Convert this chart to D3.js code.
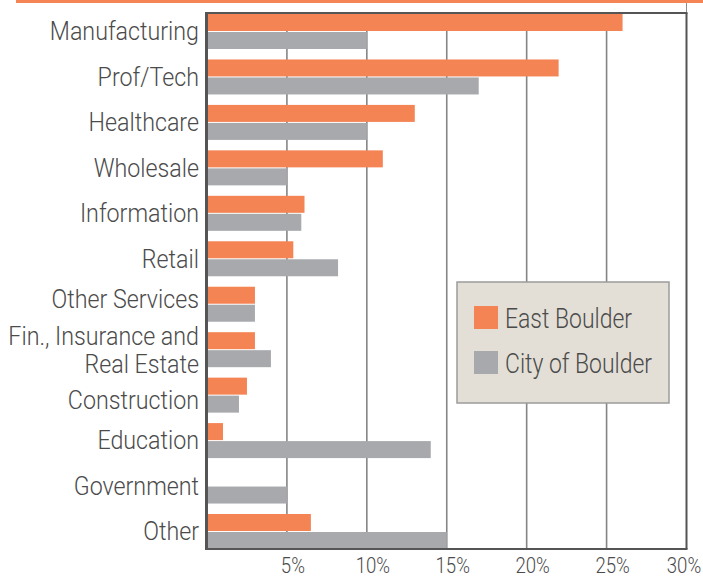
<!DOCTYPE html>
<html>
<head>
<meta charset="utf-8">
<script src="https://cdn.jsdelivr.net/npm/d3@7"></script>
<style>
  html, body { margin: 0; padding: 0; background: #ffffff; }
  svg { display: block; }
  text { font-family: Roboto, "Liberation Sans", sans-serif; font-weight: 300; }
</style>
</head>
<body>
<svg id="chart" width="703" height="579"></svg>
<script>
// Employment share by industry: East Boulder vs. City of Boulder
const categories = [
  "Manufacturing", "Prof/Tech", "Healthcare", "Wholesale", "Information",
  "Retail", "Other Services", "Fin., Insurance and\nReal Estate",
  "Construction", "Education", "Government", "Other"
];
const seriesNames = ["East Boulder", "City of Boulder"];
const eastBoulder = [26, 22, 13, 11, 6.1, 5.4, 3, 3, 2.5, 1, 0, 6.5];
const cityOfBoulder = [10, 17, 10, 5, 5.9, 8.2, 3, 4, 2, 14, 5, 15];
const tickValues = [5, 10, 15, 20, 25, 30];

const colors = { "East Boulder": "#f58455", "City of Boulder": "#a8a9ad" };
const textColor = "#4b4b4b";

// small vertical nudges so labels clear the two-line neighbour
const labelShift = { "Other Services": -5, "Construction": 5 };

const svg = d3.select("#chart");

const plot = { left: 207, right: 686.5, top: 13, bottom: 549 };

const x = d3.scaleLinear().domain([0, 30]).range([plot.left, plot.right]);
const y = d3.scaleBand().domain(categories).range([14, 549])
  .paddingInner(0.23).paddingOuter(0);
const ySub = d3.scaleBand().domain(seriesNames).range([0, y.bandwidth()])
  .paddingInner(0.0556).paddingOuter(0);

// orange rule across the top
svg.append("rect")
  .attr("x", 16).attr("y", 0).attr("width", 703 - 16).attr("height", 3)
  .attr("fill", colors["East Boulder"]);
svg.append("line")
  .attr("x1", plot.right).attr("x2", plot.right)
  .attr("y1", 3).attr("y2", plot.top)
  .attr("stroke", "#8c8c8c").attr("stroke-width", 1);

// vertical gridlines
svg.append("g").selectAll("line")
  .data(tickValues.filter(d => d < 30))
  .join("line")
  .attr("x1", d => x(d)).attr("x2", d => x(d))
  .attr("y1", plot.top).attr("y2", plot.bottom)
  .attr("stroke", "#858585").attr("stroke-width", 1.6);

// bars
const rows = categories.map((c, i) => ({
  category: c,
  values: [
    { series: "East Boulder", value: eastBoulder[i] },
    { series: "City of Boulder", value: cityOfBoulder[i] }
  ]
}));

const groups = svg.append("g").selectAll("g")
  .data(rows)
  .join("g")
  .attr("transform", d => `translate(0,${y(d.category)})`);

groups.selectAll("rect")
  .data(d => d.values.filter(v => v.value > 0))
  .join("rect")
  .attr("x", x(0))
  .attr("y", d => ySub(d.series))
  .attr("width", d => x(d.value) - x(0))
  .attr("height", ySub.bandwidth())
  .attr("fill", d => colors[d.series]);

// plot frame
const frame = svg.append("g").attr("stroke", "#555555").attr("fill", "none");
frame.append("line").attr("x1", plot.left - 0.5).attr("x2", plot.left - 0.5)
  .attr("y1", plot.top - 1).attr("y2", plot.bottom + 1).attr("stroke-width", 3);
frame.append("line").attr("x1", plot.left - 2).attr("x2", plot.right + 1)
  .attr("y1", plot.top).attr("y2", plot.top).attr("stroke-width", 2);
frame.append("line").attr("x1", plot.left - 2).attr("x2", plot.right + 1)
  .attr("y1", plot.bottom).attr("y2", plot.bottom).attr("stroke-width", 2);
frame.append("line").attr("x1", plot.right).attr("x2", plot.right)
  .attr("y1", plot.top).attr("y2", plot.bottom).attr("stroke-width", 2);

// category labels
const labelSize = 25;
const lineGap = 28;
const cats = svg.append("g").selectAll("text")
  .data(categories)
  .join("text")
  .attr("text-anchor", "end")
  .attr("fill", textColor)
  .attr("font-size", labelSize)
  .attr("transform", d => {
    const lines = d.split("\n");
    const mid = y(d) + y.bandwidth() / 2 + (labelShift[d] || 0);
    const base = mid + labelSize * 0.355 - (lines.length - 1) * lineGap / 2;
    return `translate(199,${base}) scale(0.93,1)`;
  });
cats.each(function (d) {
  d3.select(this).selectAll("tspan")
    .data(d.split("\n"))
    .join("tspan")
    .attr("x", 0)
    .attr("dy", (t, i) => i === 0 ? 0 : lineGap)
    .text(t => t);
});

// x tick labels (kept inside the right edge)
svg.append("g").selectAll("text")
  .data(tickValues)
  .join("text")
  .attr("text-anchor", "middle")
  .attr("fill", textColor)
  .attr("font-size", 23)
  .attr("transform", d => `translate(${Math.min(x(d) + 6, 684)},573) scale(0.81,1)`)
  .text(d => d + "%");

// legend
const legend = svg.append("g");
legend.append("rect")
  .attr("x", 457).attr("y", 282).attr("width", 212).attr("height", 121)
  .attr("fill", "#e3dfd6").attr("stroke", "#9c9c9c").attr("stroke-width", 1.5);
const items = legend.selectAll("g.item")
  .data(seriesNames)
  .join("g")
  .attr("class", "item")
  .attr("transform", (d, i) => `translate(474,${306 + i * 45})`);
items.append("rect")
  .attr("width", 24).attr("height", 23)
  .attr("fill", d => colors[d]);
items.append("text")
  .attr("fill", textColor)
  .attr("font-size", 28)
  .attr("transform", "translate(31,22) scale(0.82,1)")
  .text(d => d);
</script>
</body>
</html>
